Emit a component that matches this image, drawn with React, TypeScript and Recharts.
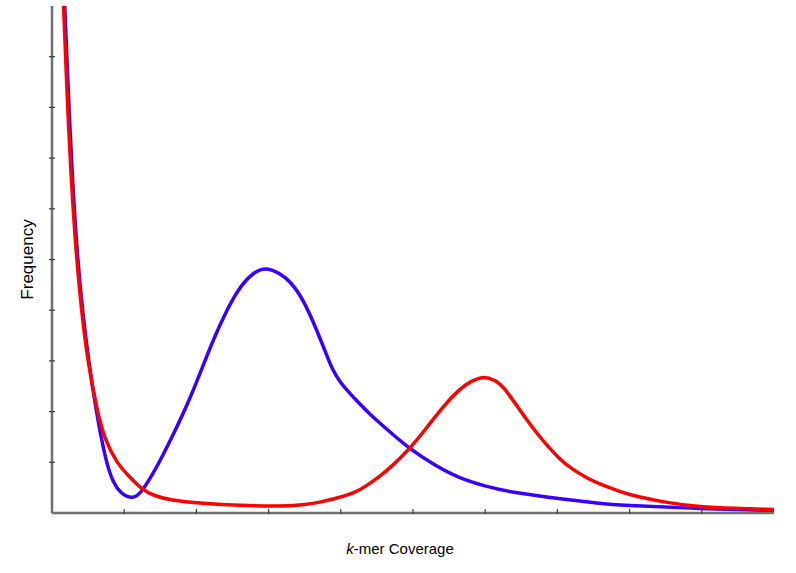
import React from 'react';
import {Label, Line, LineChart, XAxis, YAxis} from 'recharts';

// k-mer coverage positions (x) and frequencies (y)
const blueX = [0.158, 0.173, 0.222, 0.277, 0.353, 0.422, 0.506, 0.609, 0.741, 0.849, 0.965, 1.04, 1.12, 1.19, 1.26, 1.4, 1.54, 1.68, 1.87, 2.05, 2.23, 2.42, 2.6, 2.79, 2.97, 3.16, 3.3, 3.48, 3.67, 3.8, 3.89, 3.99, 4.13, 4.27, 4.4, 4.68, 4.95, 5.3, 5.65, 6.0, 6.34, 7.04, 7.59, 7.87, 8.98, 10];
const blueY = [10.6, 10.11, 8.42, 6.7, 5.02, 3.99, 3.01, 2.03, 1.04, 0.58, 0.38, 0.32, 0.3, 0.35, 0.46, 0.78, 1.15, 1.55, 2.12, 2.75, 3.41, 4.0, 4.46, 4.75, 4.85, 4.72, 4.57, 4.22, 3.6, 3.13, 2.81, 2.58, 2.35, 2.14, 1.95, 1.6, 1.27, 0.94, 0.68, 0.53, 0.41, 0.28, 0.19, 0.155, 0.085, 0.05];

const redX = [0.142, 0.157, 0.204, 0.259, 0.339, 0.409, 0.492, 0.623, 0.734, 0.9, 1.08, 1.26, 1.4, 1.63, 2.09, 2.6, 3.16, 3.48, 3.71, 3.94, 4.13, 4.27, 4.4, 4.54, 4.73, 4.95, 5.19, 5.42, 5.65, 5.8, 5.97, 6.14, 6.25, 6.48, 6.71, 7.04, 7.22, 7.41, 7.59, 7.87, 8.05, 8.52, 8.98, 9.43, 10];
const redY = [10.6, 10.11, 8.42, 6.7, 5.02, 3.99, 3.01, 2.03, 1.43, 0.98, 0.7, 0.45, 0.35, 0.25, 0.19, 0.15, 0.13, 0.16, 0.21, 0.29, 0.37, 0.46, 0.58, 0.72, 0.95, 1.26, 1.68, 2.11, 2.45, 2.6, 2.7, 2.62, 2.5, 2.03, 1.57, 1.04, 0.85, 0.69, 0.57, 0.42, 0.34, 0.2, 0.12, 0.09, 0.07];

const xTicks = [1, 2, 3, 4, 5, 6, 7, 8, 9];
const yTicks = [1, 2, 3, 4, 5, 6, 7, 8, 9];

const blueData = blueX.map((x, i) => ({x, y: blueY[i]}));
const redData = redX.map((x, i) => ({x, y: redY[i]}));

const FONT = '"Liberation Sans", Arial, sans-serif';
const TICK_COLOR = '#3a3a3a';

const XTick = (props: any) => (
    <line x1={props.x} x2={props.x} y1={props.y - 4} y2={props.y + 1} stroke={TICK_COLOR} strokeWidth={1.2}/>
);

const YTick = (props: any) => (
    <line x1={props.x - 3} x2={props.x + 3} y1={props.y} y2={props.y} stroke={TICK_COLOR} strokeWidth={1.2}/>
);

const XLabel = (props: any) => {
    const {x, y, width} = props.viewBox;
    return (
        <text x={x + width / 2 - 13} y={y + 41} textAnchor="middle" fontFamily={FONT} fontSize={15} fill="#000">
            <tspan fontStyle="italic">k</tspan>-mer Coverage
        </text>
    );
};

const YLabel = (props: any) => {
    const {y, height} = props.viewBox;
    const cx = 27;
    const cy = y + height / 2;
    return (
        <text x={cx} y={cy} textAnchor="middle" dominantBaseline="central" transform={`rotate(-90, ${cx}, ${cy})`}
              fontFamily={FONT} fontSize={17} fill="#000">
            Frequency
        </text>
    );
};

export default function App() {
    return (
        <div style={{position: 'absolute', left: 0, top: 0, background: '#fff'}}>
            <LineChart width={796} height={573} margin={{top: 6, right: 22, left: 0, bottom: 0}}>
                <XAxis
                    type="number"
                    dataKey="x"
                    domain={[0, 10]}
                    ticks={xTicks}
                    allowDataOverflow
                    height={60}
                    tickSize={0}
                    tickMargin={0}
                    tickLine={false}
                    tick={<XTick/>}
                    axisLine={{stroke: '#707070', strokeWidth: 2.5}}
                >
                    <Label content={<XLabel/>}/>
                </XAxis>
                <YAxis
                    type="number"
                    dataKey="y"
                    domain={[0, 10]}
                    ticks={yTicks}
                    allowDataOverflow
                    width={52}
                    tickSize={0}
                    tickMargin={0}
                    tickLine={false}
                    tick={<YTick/>}
                    axisLine={{stroke: '#707070', strokeWidth: 2.5}}
                >
                    <Label content={<YLabel/>}/>
                </YAxis>
                <Line data={blueData} dataKey="y" type="basis" stroke="#3800ff" strokeWidth={3.5} dot={false}
                      isAnimationActive={false}/>
                <Line data={redData} dataKey="y" type="basis" stroke="#ff0000" strokeWidth={3.5} dot={false}
                      isAnimationActive={false}/>
            </LineChart>
        </div>
    );
}
